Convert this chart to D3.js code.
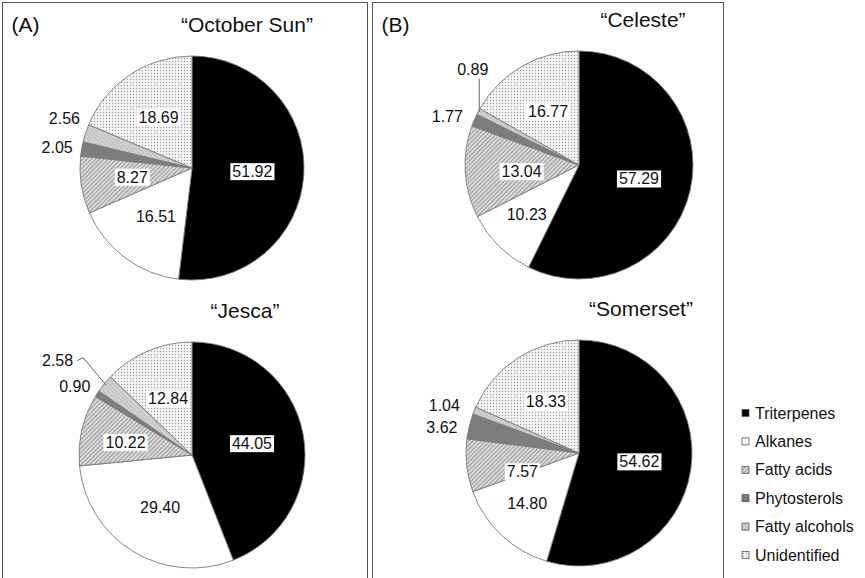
<!DOCTYPE html>
<html>
<head>
<meta charset="utf-8">
<script src="https://cdn.jsdelivr.net/npm/d3@7"></script>
<style>
  body { margin: 0; background: #fff; }
  svg { display: block; font-family: "Liberation Sans", Arial, Helvetica, sans-serif; }
</style>
</head>
<body>
<svg id="chart"></svg>
<script>
// data
const categories = ["Triterpenes", "Alkanes", "Fatty acids", "Phytosterols", "Fatty alcohols", "Unidentified"];
const cultivars = ["October Sun", "Jesca", "Celeste", "Somerset"];
const octoberSun = [51.92, 16.51, 8.27, 2.05, 2.56, 18.69];
const jesca = [44.05, 29.40, 10.22, 0.90, 2.58, 12.84];
const celeste = [57.29, 10.23, 13.04, 1.77, 0.89, 16.77];
const somerset = [54.62, 14.80, 7.57, 3.62, 1.04, 18.33];

let width = 865, height = 578;
let svg = d3.select("#chart").attr("width", width).attr("height", height);
svg.append("rect").attr("width", width).attr("height", height).attr("fill", "#fff");

// patterns
let defs = svg.append("defs");
let pFA = defs.append("pattern").attr("id", "fattyAcids").attr("width", 3).attr("height", 3)
  .attr("patternUnits", "userSpaceOnUse").attr("patternTransform", "rotate(45)");
pFA.append("rect").attr("width", 3).attr("height", 3).attr("fill", "#dadada");
pFA.append("line").attr("x1", 0).attr("y1", 0).attr("x2", 0).attr("y2", 3).attr("stroke", "#6e6e6e").attr("stroke-width", 1.2);

let pAlc = defs.append("pattern").attr("id", "fattyAlcohols").attr("width", 3).attr("height", 3)
  .attr("patternUnits", "userSpaceOnUse").attr("patternTransform", "rotate(-45)");
pAlc.append("rect").attr("width", 3).attr("height", 3).attr("fill", "#d2d2d2");
pAlc.append("line").attr("x1", 0).attr("y1", 0).attr("x2", 0).attr("y2", 3).attr("stroke", "#a9a9a9").attr("stroke-width", 1);

let pUn = defs.append("pattern").attr("id", "unidentified").attr("width", 3).attr("height", 3)
  .attr("patternUnits", "userSpaceOnUse");
pUn.append("rect").attr("width", 3).attr("height", 3).attr("fill", "#f5f5f5");
pUn.append("circle").attr("cx", 1.5).attr("cy", 1.5).attr("r", 0.65).attr("fill", "#9a9a9a");

let fill = d3.scaleOrdinal()
  .domain(categories)
  .range(["#000", "#fff", "url(#fattyAcids)", "#7d7d7d", "url(#fattyAlcohols)", "url(#unidentified)"]);

// panels
let panels = [
  { label: "(A)", x: 2.5, w: 365 },
  { label: "(B)", x: 372.5, w: 351 }
];
panels.forEach(p => {
  svg.append("rect").attr("x", p.x).attr("y", 2.5).attr("width", p.w).attr("height", 620)
    .attr("fill", "none").attr("stroke", "#555").attr("stroke-width", 1);
  svg.append("text").attr("x", p.x + 9).attr("y", 32).attr("font-size", 21).attr("fill", "#111").text(p.label);
});

// pie layout
let pies = [
  { name: cultivars[0], values: octoberSun, cx: 192, cy: 168, r: 112, tdx: 55 },
  { name: cultivars[1], values: jesca, cx: 192, cy: 455, r: 113, tdx: 53 },
  { name: cultivars[2], values: celeste, cx: 579, cy: 165, r: 114, tdx: 64 },
  { name: cultivars[3], values: somerset, cx: 579, cy: 453, r: 113, tdx: 62 }
];

// label nudges [dx, dy, leader]
let nudges = {
  "October Sun|Phytosterols": [-1, 0],
  "October Sun|Fatty alcohols": [2, -12],
  "Jesca|Fatty acids": [-7, 1],
  "Jesca|Phytosterols": [0, -3],
  "Jesca|Fatty alcohols": [-25, -18, "elbow"],
  "Celeste|Alkanes": [-9, 6],
  "Celeste|Fatty acids": [4, 3],
  "Celeste|Phytosterols": [-4, 0],
  "Celeste|Fatty alcohols": [17, -38, "up"],
  "Somerset|Alkanes": [-10, 6],
  "Somerset|Fatty acids": [4, 12],
  "Somerset|Phytosterols": [-4, 3],
  "Somerset|Fatty alcohols": [-7, -2]
};

let fmt = d3.format(".2f");
let pie = d3.pie().sort(null).value(d => d.value);

function polar(cx, cy, rad, a) {
  return [cx + rad * Math.sin(a), cy - rad * Math.cos(a)];
}

pies.forEach(p => {
  let rows = categories.map((c, i) => ({ cat: c, value: p.values[i] }));
  let arcs = pie(rows);
  let arc = d3.arc().innerRadius(0).outerRadius(p.r);
  let g = svg.append("g").attr("transform", "translate(" + p.cx + "," + p.cy + ")");

  g.selectAll("path").data(arcs).enter().append("path")
    .attr("d", arc)
    .attr("fill", d => fill(d.data.cat))
    .attr("stroke", "#7a7a7a")
    .attr("stroke-width", 0.9);

  // title
  svg.append("text")
    .attr("x", p.cx + p.tdx).attr("y", p.cy - p.r - 24)
    .attr("text-anchor", "middle").attr("font-size", 21).attr("fill", "#111")
    .text("\u201C" + p.name + "\u201D");

  arcs.forEach(d => {
    let mid = (d.startAngle + d.endAngle) / 2;
    let n = nudges[p.name + "|" + d.data.cat] || [0, 0];
    if (d.data.value >= 5) {
      // inside label with white box
      let pos = polar(0, 0, p.r * 0.54, mid);
      let lg = g.append("g");
      let t = lg.append("text").attr("x", pos[0] + n[0]).attr("y", pos[1] + n[1])
        .attr("text-anchor", "middle").attr("dominant-baseline", "central")
        .attr("font-size", 16).attr("fill", "#111").text(fmt(d.data.value));
      let bb = t.node().getBBox();
      lg.insert("rect", "text").attr("x", bb.x - 2).attr("y", bb.y)
        .attr("width", bb.width + 4).attr("height", bb.height).attr("fill", "#fff");
    } else {
      let base = polar(p.cx, p.cy, p.r + 8, mid);
      let lx = base[0] + n[0], ly = base[1] + n[1];
      svg.append("text").attr("x", lx).attr("y", ly)
        .attr("text-anchor", "end").attr("dominant-baseline", "central")
        .attr("font-size", 16).attr("fill", "#111").text(fmt(d.data.value));
      if (n[2] == "elbow") {
        let a = polar(p.cx, p.cy, p.r - 2, mid);
        svg.append("path")
          .attr("d", d3.line()([[lx + 4, ly], [lx + 10, ly - 3], a]))
          .attr("fill", "none").attr("stroke", "#666").attr("stroke-width", 1);
      } else if (n[2] == "up") {
        let a = polar(p.cx, p.cy, p.r - 1, mid);
        svg.append("path")
          .attr("d", d3.line()([a, [a[0], ly + 9]]))
          .attr("fill", "none").attr("stroke", "#666").attr("stroke-width", 1);
      }
    }
  });
});

// legend
let legend = svg.append("g").attr("transform", "translate(742,413)");
let item = legend.selectAll("g").data(categories).enter().append("g")
  .attr("transform", (d, i) => "translate(0," + (i * 28.4) + ")");
item.append("rect").attr("x", 0).attr("y", -3.5).attr("width", 7).attr("height", 7)
  .attr("fill", d => fill(d)).attr("stroke", "#555").attr("stroke-width", 0.8);
item.append("text").attr("x", 13).attr("y", 0).attr("dominant-baseline", "central")
  .attr("font-size", 16).attr("fill", "#111").text(d => d);
</script>
</body>
</html>
